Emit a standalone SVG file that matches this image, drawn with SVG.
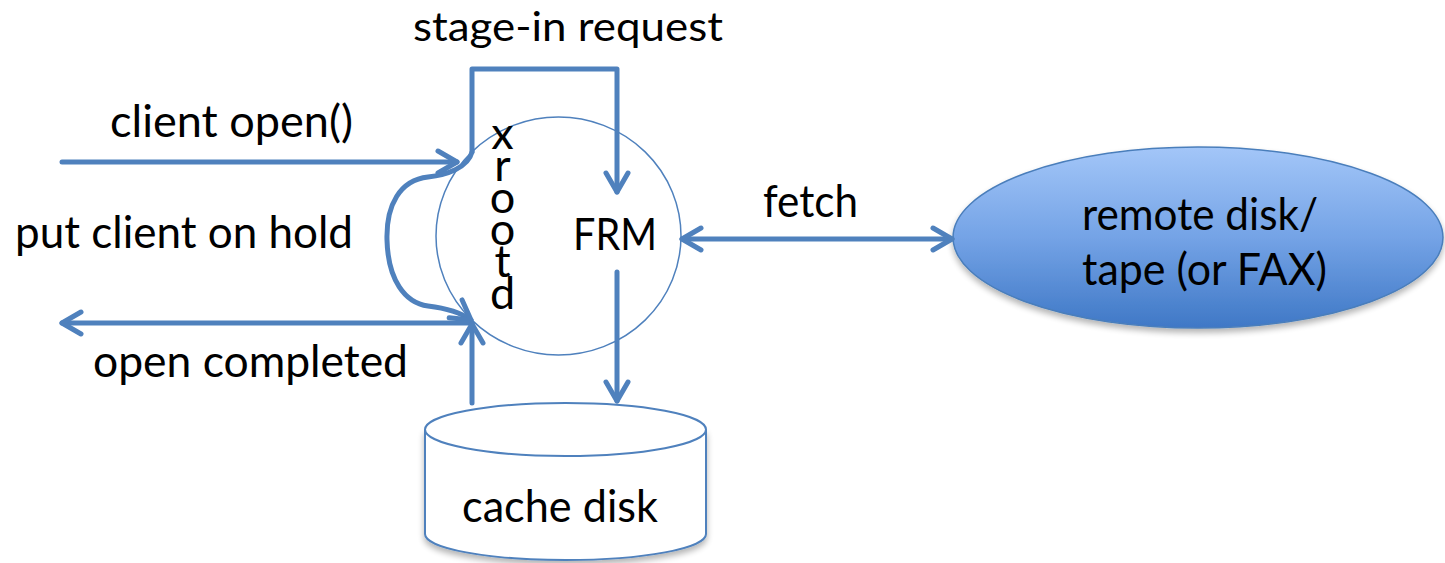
<svg xmlns="http://www.w3.org/2000/svg" width="1445" height="563" viewBox="0 0 1445 563">
  <style>
    .lbl { font-family: "Lato", "Liberation Sans", sans-serif; font-size: 45px; fill: #000; }
    .vert { font-family: "Lato", "Liberation Sans", sans-serif; font-size: 45px; fill: #000; writing-mode: vertical-rl; text-orientation: upright; }
    .edge { fill: none; stroke: #4F81BD; stroke-width: 5; stroke-linecap: round; stroke-linejoin: round; }
    .outline { stroke: #4F81BD; stroke-width: 2; }
  </style>
  <defs>
    <marker id="arrow" markerUnits="userSpaceOnUse" markerWidth="40" markerHeight="40" viewBox="-30 -20 40 40" refX="0" refY="0" orient="auto-start-reverse">
      <path d="M-19,-11 L0,0 L-19,11" fill="none" stroke="#4F81BD" stroke-width="5" stroke-linecap="round" stroke-linejoin="round"/>
    </marker>
    <linearGradient id="remoteFill" x1="0" y1="0" x2="0" y2="1">
      <stop offset="0" stop-color="#A3C6F8"/>
      <stop offset="0.5" stop-color="#74A3E6"/>
      <stop offset="1" stop-color="#3F78C6"/>
    </linearGradient>
    <filter id="shadow" x="-10%" y="-10%" width="120%" height="130%">
      <feGaussianBlur in="SourceAlpha" stdDeviation="3"/>
      <feOffset dx="0" dy="4" result="blur"/>
      <feComponentTransfer><feFuncA type="linear" slope="0.3"/></feComponentTransfer>
      <feMerge><feMergeNode/><feMergeNode in="SourceGraphic"/></feMerge>
    </filter>
  </defs>

  <!-- xrootd server with FRM -->
  <g id="server">
    <ellipse cx="558.5" cy="236" rx="122.5" ry="119" fill="#FFFFFF" stroke="#4F81BD" stroke-width="1.5"/>
    <!-- server name written top to bottom -->
    <text class="vert" x="502.5" y="105" textLength="214" lengthAdjust="spacing">xrootd</text>
    <text class="lbl" x="573" y="250" textLength="84" lengthAdjust="spacingAndGlyphs">FRM</text>
  </g>

  <!-- remote storage -->
  <g id="remote">
    <ellipse cx="1198" cy="237.5" rx="245" ry="90.5" fill="url(#remoteFill)" stroke="#4A7EBB" stroke-width="1.5" filter="url(#shadow)"/>
    <text class="lbl" x="1082" y="230" textLength="236" lengthAdjust="spacingAndGlyphs">remote disk/</text>
    <text class="lbl" x="1082" y="285" textLength="245" lengthAdjust="spacingAndGlyphs">tape (or FAX)</text>
  </g>

  <!-- local cache disk -->
  <g id="cache">
    <path class="outline" d="M425,429.5 L425,534 A140.5,26 0 0 0 706,534 L706,429.5" fill="#FFFFFF" filter="url(#shadow)"/>
    <ellipse class="outline" cx="565.5" cy="429.5" rx="140.5" ry="26.5" fill="#FFFFFF"/>
    <text class="lbl" x="462" y="522" textLength="196" lengthAdjust="spacingAndGlyphs">cache disk</text>
  </g>

  <!-- connectors -->
  <g id="connectors">
    <path class="edge" d="M62,162 L457,162" marker-end="url(#arrow)"/>
    <path class="edge" d="M472,152 L472,69 L617,69 L617,192" marker-end="url(#arrow)"/>
    <path class="edge" d="M472,152 C468,168 446,175 428,177 C400,180 386,205 387,240 C388,280 405,303 428,306 C445,308 460,312 471,320" marker-end="url(#arrow)"/>
    <path class="edge" d="M472,323 L62,323" marker-end="url(#arrow)"/>
    <path class="edge" d="M472,403 L472,324" marker-end="url(#arrow)"/>
    <path class="edge" d="M617,272 L617,401" marker-end="url(#arrow)"/>
    <path class="edge" d="M682,239 L952,239" marker-start="url(#arrow)" marker-end="url(#arrow)"/>
  </g>

  <!-- connector labels -->
  <g id="labels">
    <text class="lbl" x="413" y="41" textLength="310" lengthAdjust="spacingAndGlyphs" style="font-size:41px">stage-in request</text>
    <text class="lbl" x="110" y="137" textLength="243" lengthAdjust="spacingAndGlyphs">client open()</text>
    <text class="lbl" x="15" y="248" textLength="338" lengthAdjust="spacingAndGlyphs">put client on hold</text>
    <text class="lbl" x="93" y="377" textLength="315" lengthAdjust="spacingAndGlyphs">open completed</text>
    <text class="lbl" x="763" y="217" textLength="95" lengthAdjust="spacingAndGlyphs">fetch</text>
  </g>
</svg>
